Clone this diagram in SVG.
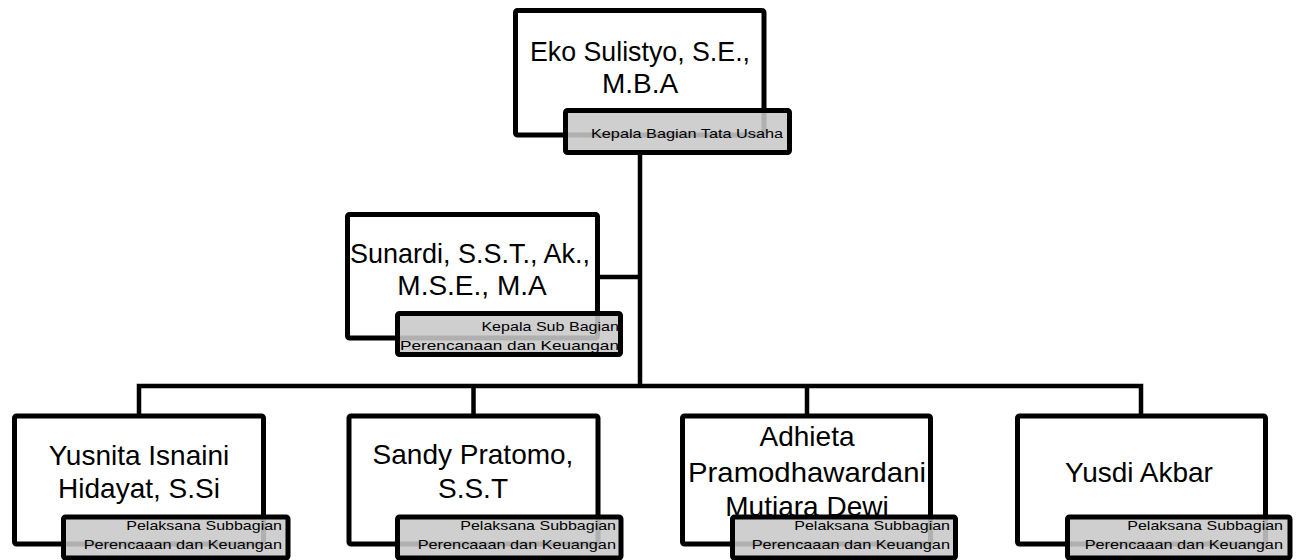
<svg xmlns="http://www.w3.org/2000/svg" width="1301" height="560" viewBox="0 0 1301 560">
<style>
.box{fill:#ffffff;stroke:#000000;stroke-width:5;stroke-linejoin:round}
.lbl{fill:#c8c8c8;fill-opacity:0.88;stroke:#000000;stroke-width:5;stroke-linejoin:round}
.name{font-family:"Liberation Sans",Arial,sans-serif;font-size:28px;fill:#000000;text-anchor:middle}
.role{font-family:"Liberation Sans",Arial,sans-serif;font-size:13px;fill:#000000;text-anchor:end}
.conn{fill:none;stroke:#000000;stroke-width:4.5;stroke-linejoin:miter}
</style>
<rect width="1301" height="560" fill="#ffffff"/>
<g id="connectors">
<line class="conn" x1="640" y1="150" x2="640" y2="388"/>
<line class="conn" x1="597" y1="277" x2="640" y2="277"/>
<polyline class="conn" points="139,416 139,386 1141,386 1141,416"/>
<line class="conn" x1="473.5" y1="386" x2="473.5" y2="416"/>
<line class="conn" x1="807" y1="386" x2="807" y2="416"/>
</g>
<g id="node-eko">
<rect class="box" x="515.5" y="10.5" width="248.5" height="124.5" rx="2"/>
<text class="name" x="640" y="61" textLength="220" lengthAdjust="spacingAndGlyphs">Eko Sulistyo, S.E.,</text>
<text class="name" x="640" y="93">M.B.A</text>
<rect class="lbl" x="565.5" y="110.5" width="224" height="42" rx="2"/>
<text class="role" x="783" y="138" textLength="192" lengthAdjust="spacingAndGlyphs">Kepala Bagian Tata Usaha</text>
</g>
<g id="node-sunardi">
<rect class="box" x="347.5" y="214.5" width="250" height="123.5" rx="2"/>
<text class="name" x="470" y="263" textLength="240" lengthAdjust="spacingAndGlyphs">Sunardi, S.S.T., Ak.,</text>
<text class="name" x="472" y="295">M.S.E., M.A</text>
<rect class="lbl" x="397.5" y="313.5" width="223" height="41" rx="2"/>
<text class="role" x="619" y="331" textLength="137.6" lengthAdjust="spacingAndGlyphs">Kepala Sub Bagian</text>
<text class="role" x="619" y="350" textLength="219" lengthAdjust="spacingAndGlyphs">Perencanaan dan Keuangan</text>
</g>
<g id="node-yusnita">
<rect class="box" x="14.5" y="416" width="249" height="128" rx="2"/>
<text class="name" x="139" y="465">Yusnita Isnaini</text>
<text class="name" x="139" y="498">Hidayat, S.Si</text>
<rect class="lbl" x="63.5" y="517" width="224.5" height="41" rx="2"/>
<text class="role" x="282" y="530" textLength="155.7" lengthAdjust="spacingAndGlyphs">Pelaksana Subbagian</text>
<text class="role" x="282" y="549" textLength="198.3" lengthAdjust="spacingAndGlyphs">Perencaaan dan Keuangan</text>
</g>
<g id="node-sandy">
<rect class="box" x="349" y="416" width="249" height="128" rx="2"/>
<text class="name" x="473" y="464">Sandy Pratomo,</text>
<text class="name" x="473" y="498">S.S.T</text>
<rect class="lbl" x="397.5" y="517" width="223.5" height="41" rx="2"/>
<text class="role" x="616" y="530" textLength="155.7" lengthAdjust="spacingAndGlyphs">Pelaksana Subbagian</text>
<text class="role" x="616" y="549" textLength="198.3" lengthAdjust="spacingAndGlyphs">Perencaaan dan Keuangan</text>
</g>
<g id="node-adhieta">
<rect class="box" x="682.5" y="416" width="248" height="128" rx="2"/>
<text class="name" x="807" y="446">Adhieta</text>
<text class="name" x="807" y="481.5" textLength="238" lengthAdjust="spacingAndGlyphs">Pramodhawardani</text>
<text class="name" x="807" y="515.5">Mutiara Dewi</text>
<rect class="lbl" x="732.5" y="517" width="223" height="41" rx="2"/>
<text class="role" x="950" y="530" textLength="155.7" lengthAdjust="spacingAndGlyphs">Pelaksana Subbagian</text>
<text class="role" x="950" y="549" textLength="198.3" lengthAdjust="spacingAndGlyphs">Perencaaan dan Keuangan</text>
</g>
<g id="node-yusdi">
<rect class="box" x="1017.5" y="416" width="248" height="128" rx="2"/>
<text class="name" x="1139" y="482">Yusdi Akbar</text>
<rect class="lbl" x="1067.5" y="517" width="222.5" height="41" rx="2"/>
<text class="role" x="1283" y="530" textLength="155.7" lengthAdjust="spacingAndGlyphs">Pelaksana Subbagian</text>
<text class="role" x="1283" y="549" textLength="198.3" lengthAdjust="spacingAndGlyphs">Perencaaan dan Keuangan</text>
</g>
</svg>
